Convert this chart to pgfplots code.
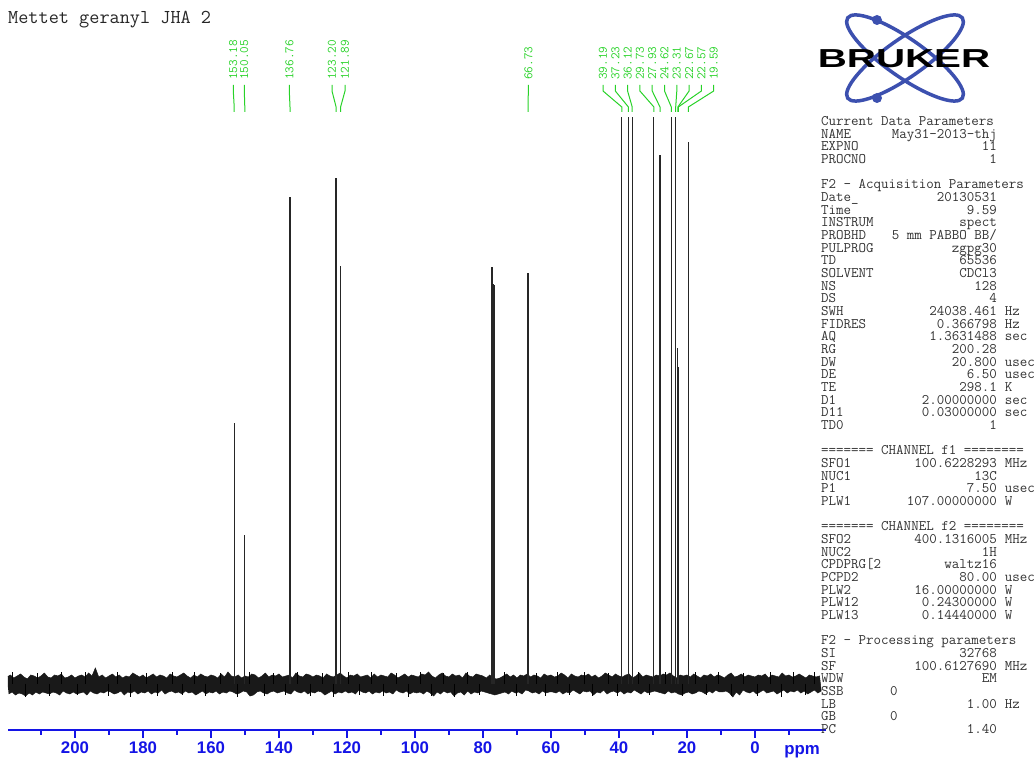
\documentclass[border=0pt]{standalone}
\usepackage{fontspec}
\usepackage{pgfplots}
\pgfplotsset{compat=1.18}
\newfontfamily\tickfont{Liberation Sans}
\newfontfamily\logofont{Liberation Sans}[FakeStretch=1.55]
\definecolor{tickblue}{RGB}{20,20,230}
\definecolor{grn}{RGB}{40,210,40}
\definecolor{logoblue}{RGB}{60,80,175}
\newcommand\plabfont{\ttfamily\fontsize{12.9}{13}\selectfont}
\newcommand\plab[3]{%
  \draw[grn,line width=1pt] (#1,675) -- (#1,669) -- (#2,653) -- (#2,648);
  \node[rotate=90,anchor=west,inner sep=0,font=\plabfont,text=grn] at (#1,680) {#3};}
\newcommand\pn[2]{\node[anchor=base west,inner sep=0] at (821,{634.5-#1*12.67}) {#2};}
\newcommand\pv[2]{\node[anchor=base east,inner sep=0] at (997,{634.5-#1*12.67}) {#2};}
\newcommand\pu[2]{\node[anchor=base west,inner sep=0] at (1004.6,{634.5-#1*12.67}) {#2};}
\newcommand\pl[4]{\pn{#1}{#2}\pv{#1}{#3}\pu{#1}{#4}}
\begin{document}
\begin{tikzpicture}[x=1pt,y=1pt]
\useasboundingbox (0,0) rectangle (1036,760);
\begin{axis}[
  at={(8pt,30pt)}, anchor=south west,
  scale only axis, width=818pt, height=612pt,
  xmin=-20.9, xmax=219.7, x dir=reverse,
  ymin=-46, ymax=566,
  axis x line*=bottom, axis y line=none, ytick=\empty,
  axis line style={tickblue, line width=1.3pt, -},
  xtick={0,20,...,200}, minor xtick={-10,10,30,...,210},
  tick align=outside,
  major tick length=8pt, minor tick length=5pt,
  tick style={tickblue, line width=1.2pt},
  xticklabel style={font=\tickfont\bfseries\fontsize{16.8}{18}\selectfont, text=tickblue},
  /pgf/number format/assume math mode=true,
]
% noise band: upper edge left->right, lower edge right->left
\addplot[fill=black!90, draw=black!90, line width=0.5pt] coordinates {
(220,7)(219,9)(218,6)(217,8)(216,10)(215,7)(214,5)(213,9)(212,8)(211,6)
(210,8)(209,11)(208,7)(207,6)(206,9)(205,8)(204,10)(203,6)(202,7)(201,9)
(200,6)(199,8)(198,9)(197,7)(196,11)(195,8)(194,16)(193,7)(192,9)(191,6)
(190,8)(189,10)(188,7)(187,9)(186,6)(185,8)(184,7)(183,11)(182,9)(181,7)
(180,9)(179,6)(178,8)(177,10)(176,7)(175,9)(174,8)(173,6)(172,10)(171,8)
(170,7)(169,9)(168,11)(167,8)(166,6)(165,9)(164,7)(163,10)(162,8)(161,7)
(160,9)(159,8)(158,6)(157,10)(156,7)(155,12)(154,8)(153,7)(152,9)(151,6)
(150,8)(149,7)(148,10)(147,9)(146,6)(145,8)(144,11)(143,7)(142,9)(141,8)
(140,10)(139,7)(138,8)(137,9)(136,6)(135,11)(134,8)(133,7)(132,10)(131,9)
(130,7)(129,9)(128,8)(127,6)(126,10)(125,8)(124,7)(123,9)(122,11)(121,8)
(120,6)(119,9)(118,8)(117,10)(116,7)(115,8)(114,9)(113,6)(112,10)(111,7)
(110,9)(109,8)(108,7)(107,11)(106,9)(105,6)(104,8)(103,10)(102,7)(101,9)
(100,8)(99,7)(98,10)(97,9)(96,12)(95,8)(94,6)(93,9)(92,11)(91,8)
(90,7)(89,10)(88,8)(87,9)(86,6)(85,11)(84,8)(83,7)(82,10)(81,9)
(80,8)(79,6)(78,9)(77,6)(76,5)(75,6)(74,8)(73,10)(72,7)(71,9)
(70,6)(69,9)(68,8)(67,10)(66,7)(65,9)(64,8)(63,6)(62,10)(61,8)
(60,9)(59,7)(58,8)(57,11)(56,9)(55,6)(54,10)(53,8)(52,7)(51,9)
(50,8)(49,10)(48,7)(47,9)(46,6)(45,8)(44,11)(43,9)(42,7)(41,10)
(40,8)(39,7)(38,9)(37,10)(36,6)(35,8)(34,11)(33,7)(32,9)(31,8)
(30,7)(29,9)(28,8)(27,10)(26,9)(25,11)(24,8)(23,6)(22,9)(21,8)
(20,9)(19,7)(18,10)(17,8)(16,6)(15,9)(14,8)(13,10)(12,7)(11,9)
(10,8)(9,6)(8,9)(7,11)(6,7)(5,8)(4,10)(3,7)(2,9)(1,8)
(0,7)(-1,9)(-2,8)(-3,10)(-4,6)(-5,9)(-6,8)(-7,7)(-8,11)(-9,8)
(-10,9)(-11,7)(-12,8)(-13,10)(-14,8)(-15,6)(-16,9)(-17,8)(-18,7)(-19,8)
(-19.5,-7)(-18.5,-9)(-17.5,-6)(-16.5,-8)(-15.5,-10)(-14.5,-7)(-13.5,-9)(-12.5,-6)(-11.5,-8)(-10.5,-7)
(-9.5,-9)(-8.5,-6)(-7.5,-8)(-6.5,-10)(-5.5,-7)(-4.5,-8)(-3.5,-9)(-2.5,-6)(-1.5,-8)(-0.5,-10)
(0.5,-7)(1.5,-9)(2.5,-8)(3.5,-6)(4.5,-11)(5.5,-8)(6.5,-13)(7.5,-9)(8.5,-7)(9.5,-8)
(10.5,-8)(11.5,-6)(12.5,-9)(13.5,-7)(14.5,-10)(15.5,-8)(16.5,-7)(17.5,-9)(18.5,-10)(19.5,-8)
(20.5,-9)(21.5,-11)(22.5,-10)(23.5,-8)(24.5,-9)(25.5,-7)(26.5,-10)(27.5,-9)(28.5,-8)(29.5,-7)
(30.5,-8)(31.5,-9)(32.5,-7)(33.5,-10)(34.5,-8)(35.5,-6)(36.5,-9)(37.5,-8)(38.5,-10)(39.5,-7)
(40.5,-9)(41.5,-7)(42.5,-8)(43.5,-10)(44.5,-6)(45.5,-9)(46.5,-8)(47.5,-11)(48.5,-7)(49.5,-8)
(50.5,-7)(51.5,-10)(52.5,-8)(53.5,-6)(54.5,-9)(55.5,-8)(56.5,-10)(57.5,-7)(58.5,-9)(59.5,-8)
(60.5,-8)(61.5,-9)(62.5,-7)(63.5,-10)(64.5,-8)(65.5,-9)(66.5,-7)(67.5,-6)(68.5,-10)(69.5,-8)
(70.5,-9)(71.5,-7)(72.5,-10)(73.5,-8)(74.5,-9)(75.5,-10)(76.5,-11)(77.5,-10)(78.5,-9)(79.5,-8)
(80.5,-7)(81.5,-9)(82.5,-8)(83.5,-10)(84.5,-7)(85.5,-11)(86.5,-8)(87.5,-9)(88.5,-12)(89.5,-8)
(90.5,-9)(91.5,-7)(92.5,-10)(93.5,-8)(94.5,-12)(95.5,-9)(96.5,-7)(97.5,-10)(98.5,-8)(99.5,-9)
(100.5,-8)(101.5,-10)(102.5,-7)(103.5,-9)(104.5,-8)(105.5,-6)(106.5,-10)(107.5,-8)(108.5,-9)(109.5,-7)
(110.5,-9)(111.5,-8)(112.5,-10)(113.5,-7)(114.5,-9)(115.5,-8)(116.5,-6)(117.5,-10)(118.5,-8)(119.5,-9)
(120.5,-7)(121.5,-9)(122.5,-8)(123.5,-10)(124.5,-7)(125.5,-9)(126.5,-11)(127.5,-8)(128.5,-7)(129.5,-9)
(130.5,-8)(131.5,-10)(132.5,-7)(133.5,-9)(134.5,-8)(135.5,-6)(136.5,-10)(137.5,-9)(138.5,-7)(139.5,-8)
(140.5,-9)(141.5,-7)(142.5,-8)(143.5,-10)(144.5,-9)(145.5,-7)(146.5,-8)(147.5,-11)(148.5,-12)(149.5,-8)
(150.5,-7)(151.5,-9)(152.5,-10)(153.5,-8)(154.5,-7)(155.5,-9)(156.5,-8)(157.5,-10)(158.5,-7)(159.5,-9)
(160.5,-8)(161.5,-10)(162.5,-7)(163.5,-9)(164.5,-11)(165.5,-8)(166.5,-9)(167.5,-7)(168.5,-10)(169.5,-8)
(170.5,-9)(171.5,-7)(172.5,-8)(173.5,-10)(174.5,-6)(175.5,-9)(176.5,-8)(177.5,-10)(178.5,-7)(179.5,-9)
(180.5,-8)(181.5,-10)(182.5,-7)(183.5,-9)(184.5,-8)(185.5,-11)(186.5,-7)(187.5,-9)(188.5,-10)(189.5,-8)
(190.5,-7)(191.5,-9)(192.5,-8)(193.5,-10)(194.5,-9)(195.5,-7)(196.5,-11)(197.5,-8)(198.5,-9)(199.5,-10)
(200.5,-8)(201.5,-10)(202.5,-9)(203.5,-7)(204.5,-11)(205.5,-9)(206.5,-8)(207.5,-10)(208.5,-9)(209.5,-8)
(210.5,-10)(211.5,-8)(212.5,-11)(213.5,-9)(214.5,-12)(215.5,-10)(216.5,-9)(217.5,-11)(218.5,-8)(219.5,-10)
};
% fine noise spikes
\addplot[ycomb, black, line width=0.7pt] coordinates {
(218.3,12)(214.7,-13)(211.2,11)(207.6,-12)(203.9,12)(199.4,-11)(196.8,12)(190.2,-12)
(187.5,12)(183.6,-13)(179.1,11)(175.7,-12)(171.3,12)(168.4,-11)(164.9,12)(161.6,-12)
(157.2,11)(152.3,-13)(148.6,12)(144.4,-12)(141.7,11)(138.2,-11)(134.6,12)(130.8,-12)
(127.3,11)(124.1,-13)(119.7,12)(116.4,-11)(112.8,12)(109.3,-12)(105.6,11)(101.9,-13)
(98.4,12)(95.2,-12)(91.7,11)(88.3,-13)(84.6,12)(81.2,-11)(73.6,12)(70.2,-12)
(64.3,11)(61.7,-12)(58.1,12)(54.6,-11)(50.3,12)(47.8,-12)(43.2,11)(40.6,-12)
(34.4,12)(31.2,-11)(26.3,12)(21.4,-12)(17.6,12)(14.2,-11)(10.7,12)(6.9,-12)
(3.3,11)(-0.8,-12)(-4.4,12)(-7.7,-13)(-11.3,12)(-14.8,-11)(-17.6,12)};
% peaks
\addplot[ycomb, black!85, line width=1.2pt] coordinates {
(153.18,261) (150.05,149) (136.76,487) (123.20,506) (121.89,418)
(77.32,417) (77.00,400) (76.68,399) (66.73,411)
(39.19,700) (37.23,700) (36.12,700) (29.73,700) (27.93,529)
(24.62,700) (23.31,700) (22.67,336) (22.57,317) (19.59,542)};
\end{axis}
% ppm label
\node[anchor=base,inner sep=0,font=\tickfont\bfseries\fontsize{16.8}{18}\selectfont,text=tickblue] at (802,5) {ppm};
% title
\node[anchor=west,inner sep=0,font=\ttfamily\fontsize{19.7}{20}\selectfont,text=black!85] at (8,740) {Mettet geranyl JHA 2};
% peak labels
\plab{233.3}{234.2}{153.18}
\plab{244.3}{244.8}{150.05}
\plab{289.3}{290.0}{136.76}
\plab{332.0}{336.1}{123.20}
\plab{345.0}{340.6}{121.89}
\plab{528.3}{528.1}{66.73}
\plab{603.0}{621.8}{39.19}
\plab{615.3}{628.4}{37.23}
\plab{627.6}{632.2}{36.12}
\plab{639.9}{653.9}{29.73}
\plab{652.2}{660.0}{27.93}
\plab{664.5}{671.3}{24.62}
\plab{676.8}{675.7}{23.31}
\plab{689.1}{677.9}{22.67}
\plab{701.4}{678.3}{22.57}
\plab{713.7}{688.4}{19.59}
% logo
\begin{scope}[shift={(905,702)}]
\draw[logoblue,line width=3.5,rotate=35] (0,0) ellipse [x radius=70,y radius=19];
\draw[logoblue,line width=3.5,rotate=-35] (0,0) ellipse [x radius=70,y radius=19];
\fill[logoblue] (-28,38) circle [radius=5];
\fill[logoblue] (-28,-40) circle [radius=5];
\end{scope}
\node[anchor=center,inner sep=0,font=\logofont\bfseries\fontsize{26}{26}\selectfont] at (904,701) {BRUKER};
% parameters
\begin{scope}[font=\ttfamily\fontsize{14.57}{15}\selectfont, text=black!80]
\pn{0}{Current Data Parameters}
\pl{1}{NAME}{May31-2013-thj}{}
\pl{2}{EXPNO}{11}{}
\pl{3}{PROCNO}{1}{}
\pn{5}{F2 - Acquisition Parameters}
\pl{6}{Date\_}{20130531}{}
\pl{7}{Time}{9.59}{}
\pl{8}{INSTRUM}{spect}{}
\pl{9}{PROBHD}{5 mm PABBO BB/}{}
\pl{10}{PULPROG}{zgpg30}{}
\pl{11}{TD}{65536}{}
\pl{12}{SOLVENT}{CDCl3}{}
\pl{13}{NS}{128}{}
\pl{14}{DS}{4}{}
\pl{15}{SWH}{24038.461}{Hz}
\pl{16}{FIDRES}{0.366798}{Hz}
\pl{17}{AQ}{1.3631488}{sec}
\pl{18}{RG}{200.28}{}
\pl{19}{DW}{20.800}{usec}
\pl{20}{DE}{6.50}{usec}
\pl{21}{TE}{298.1}{K}
\pl{22}{D1}{2.00000000}{sec}
\pl{23}{D11}{0.03000000}{sec}
\pl{24}{TD0}{1}{}
\pn{26}{======= CHANNEL f1 ========}
\pl{27}{SFO1}{100.6228293}{MHz}
\pl{28}{NUC1}{13C}{}
\pl{29}{P1}{7.50}{usec}
\pl{30}{PLW1}{107.00000000}{W}
\pn{32}{======= CHANNEL f2 ========}
\pl{33}{SFO2}{400.1316005}{MHz}
\pl{34}{NUC2}{1H}{}
\pl{35}{CPDPRG[2}{waltz16}{}
\pl{36}{PCPD2}{80.00}{usec}
\pl{37}{PLW2}{16.00000000}{W}
\pl{38}{PLW12}{0.24300000}{W}
\pl{39}{PLW13}{0.14440000}{W}
\pn{41}{F2 - Processing parameters}
\pl{42}{SI}{32768}{}
\pl{43}{SF}{100.6127690}{MHz}
\pl{44}{WDW}{EM}{}
\pn{45}{SSB}
\node[anchor=base west,inner sep=0] at (889.9,{634.5-45*12.67}) {0};
\pl{46}{LB}{1.00}{Hz}
\pn{47}{GB}
\node[anchor=base west,inner sep=0] at (889.9,{634.5-47*12.67}) {0};
\pl{48}{PC}{1.40}{}
\end{scope}
\end{tikzpicture}
\end{document}
